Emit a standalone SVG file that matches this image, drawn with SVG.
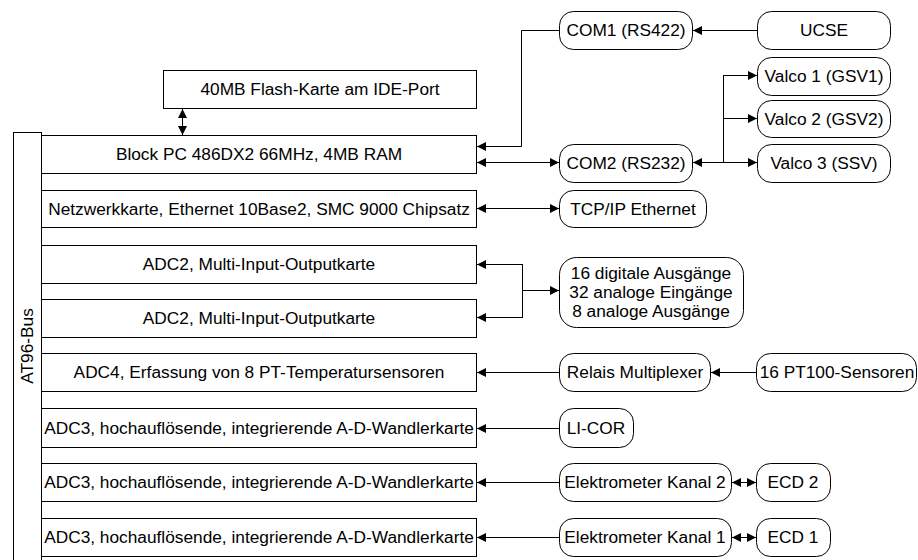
<svg xmlns="http://www.w3.org/2000/svg" width="918" height="560" viewBox="0 0 918 560">
<style>
  .card { fill: #fff; stroke: #000; stroke-width: 1; }
  .rbox { fill: #fff; stroke: #000; stroke-width: 1; }
  .t { font-family: "Liberation Sans", Arial, sans-serif; font-size: 17.3px; fill: #000; text-anchor: middle; }
  .c { fill: none; stroke: #000; stroke-width: 1; }
</style>
<defs>
  <marker id="ah" viewBox="0 0 10 10" refX="10" refY="5" markerWidth="9" markerHeight="9" orient="auto-start-reverse" markerUnits="userSpaceOnUse">
    <path d="M0,0 L10,5 L0,10 Z" fill="#000"/>
  </marker>
</defs>
<rect width="918" height="560" fill="#fff"/>

<g id="bus">
  <rect class="card" x="13.5" y="132.5" width="28" height="440"/>
  <text class="t" transform="translate(33,346) rotate(-90)">AT96-Bus</text>
</g>
<g id="flash">
  <rect class="card" x="163.5" y="70.5" width="313" height="38"/>
  <text class="t" x="320" y="95">40MB Flash-Karte am IDE-Port</text>
</g>
<g id="blockpc">
  <rect class="card" x="41.5" y="135.5" width="435" height="38"/>
  <text class="t" x="259" y="160">Block PC 486DX2 66MHz, 4MB RAM</text>
</g>
<g id="netz">
  <rect class="card" x="41.5" y="190.5" width="435" height="37"/>
  <text class="t" x="259" y="215">Netzwerkkarte, Ethernet 10Base2, SMC 9000 Chipsatz</text>
</g>
<g id="adc2a">
  <rect class="card" x="41.5" y="245.5" width="435" height="38"/>
  <text class="t" x="259" y="270">ADC2, Multi-Input-Outputkarte</text>
</g>
<g id="adc2b">
  <rect class="card" x="41.5" y="299.5" width="435" height="38"/>
  <text class="t" x="259" y="324">ADC2, Multi-Input-Outputkarte</text>
</g>
<g id="adc4">
  <rect class="card" x="41.5" y="353.5" width="435" height="38"/>
  <text class="t" x="259" y="378">ADC4, Erfassung von 8 PT-Temperatursensoren</text>
</g>
<g id="adc3a">
  <rect class="card" x="41.5" y="408.5" width="435" height="39"/>
  <text class="t" x="259" y="434">ADC3, hochauflösende, integrierende A-D-Wandlerkarte</text>
</g>
<g id="adc3b">
  <rect class="card" x="41.5" y="463.5" width="435" height="38"/>
  <text class="t" x="259" y="488">ADC3, hochauflösende, integrierende A-D-Wandlerkarte</text>
</g>
<g id="adc3c">
  <rect class="card" x="41.5" y="518.5" width="435" height="38"/>
  <text class="t" x="259" y="543">ADC3, hochauflösende, integrierende A-D-Wandlerkarte</text>
</g>

<g id="com1">
  <rect class="rbox" x="559.5" y="11.5" width="133" height="38" rx="14"/>
  <text class="t" x="626" y="36">COM1 (RS422)</text>
</g>
<g id="ucse">
  <rect class="rbox" x="757.5" y="11.5" width="133" height="38" rx="14"/>
  <text class="t" x="824" y="36">UCSE</text>
</g>
<g id="valco1">
  <rect class="rbox" x="757.5" y="57.5" width="133" height="38" rx="14"/>
  <text class="t" x="824" y="82">Valco 1 (GSV1)</text>
</g>
<g id="valco2">
  <rect class="rbox" x="757.5" y="100.5" width="133" height="37" rx="14"/>
  <text class="t" x="824" y="125">Valco 2 (GSV2)</text>
</g>
<g id="valco3">
  <rect class="rbox" x="757.5" y="144.5" width="133" height="38" rx="14"/>
  <text class="t" x="824" y="169">Valco 3 (SSV)</text>
</g>
<g id="com2">
  <rect class="rbox" x="559.5" y="144.5" width="133" height="38" rx="14"/>
  <text class="t" x="626" y="169">COM2 (RS232)</text>
</g>
<g id="tcp">
  <rect class="rbox" x="559.5" y="190.5" width="147" height="37" rx="14"/>
  <text class="t" x="633" y="215">TCP/IP Ethernet</text>
</g>
<g id="io">
  <rect class="rbox" x="559.5" y="257.5" width="184" height="70" rx="17"/>
  <text class="t" x="651" y="279">16 digitale Ausgänge</text>
  <text class="t" x="651" y="298">32 analoge Eingänge</text>
  <text class="t" x="651" y="317">8 analoge Ausgänge</text>
</g>
<g id="relais">
  <rect class="rbox" x="559.5" y="353.5" width="151" height="38" rx="14"/>
  <text class="t" x="635" y="378">Relais Multiplexer</text>
</g>
<g id="pt100">
  <rect class="rbox" x="756.5" y="353.5" width="160" height="38" rx="14"/>
  <text class="t" x="837" y="378">16 PT100-Sensoren</text>
</g>
<g id="licor">
  <rect class="rbox" x="559.5" y="408.5" width="74" height="39" rx="14"/>
  <text class="t" x="596" y="434">LI-COR</text>
</g>
<g id="elek2">
  <rect class="rbox" x="559.5" y="463.5" width="172" height="38" rx="14"/>
  <text class="t" x="645" y="488">Elektrometer Kanal 2</text>
</g>
<g id="ecd2">
  <rect class="rbox" x="756.5" y="463.5" width="74" height="38" rx="14"/>
  <text class="t" x="793" y="488">ECD 2</text>
</g>
<g id="elek1">
  <rect class="rbox" x="559.5" y="518.5" width="172" height="38" rx="14"/>
  <text class="t" x="645" y="543">Elektrometer Kanal 1</text>
</g>
<g id="ecd1">
  <rect class="rbox" x="756.5" y="518.5" width="74" height="38" rx="14"/>
  <text class="t" x="793" y="543">ECD 1</text>
</g>

<g id="connectors">
  <line class="c" x1="182.5" y1="109" x2="182.5" y2="135" marker-start="url(#ah)" marker-end="url(#ah)"/>
  <polyline class="c" points="559,30.5 521.5,30.5 521.5,146.5 477,146.5" marker-end="url(#ah)"/>
  <line class="c" x1="757" y1="30.5" x2="693" y2="30.5" marker-end="url(#ah)"/>
  <line class="c" x1="477" y1="162.5" x2="559" y2="162.5" marker-start="url(#ah)" marker-end="url(#ah)"/>
  <line class="c" x1="723.5" y1="162.5" x2="693" y2="162.5" marker-end="url(#ah)"/>
  <line class="c" x1="723.5" y1="75.5" x2="723.5" y2="162.5"/>
  <line class="c" x1="723" y1="75.5" x2="757" y2="75.5" marker-end="url(#ah)"/>
  <line class="c" x1="723" y1="118.5" x2="757" y2="118.5" marker-end="url(#ah)"/>
  <line class="c" x1="723" y1="162.5" x2="757" y2="162.5" marker-end="url(#ah)"/>
  <line class="c" x1="477" y1="208.5" x2="559" y2="208.5" marker-start="url(#ah)" marker-end="url(#ah)"/>
  <polyline class="c" points="522.5,264.5 477,264.5" marker-end="url(#ah)"/>
  <polyline class="c" points="522.5,317.5 477,317.5" marker-end="url(#ah)"/>
  <line class="c" x1="522.5" y1="264" x2="522.5" y2="318"/>
  <line class="c" x1="522" y1="290.5" x2="559" y2="290.5" marker-end="url(#ah)"/>
  <line class="c" x1="559" y1="372.5" x2="477" y2="372.5" marker-end="url(#ah)"/>
  <line class="c" x1="756" y1="372.5" x2="711" y2="372.5" marker-end="url(#ah)"/>
  <line class="c" x1="559" y1="428.5" x2="477" y2="428.5" marker-end="url(#ah)"/>
  <line class="c" x1="559" y1="482.5" x2="477" y2="482.5" marker-end="url(#ah)"/>
  <line class="c" x1="732" y1="482.5" x2="756" y2="482.5" marker-start="url(#ah)" marker-end="url(#ah)"/>
  <line class="c" x1="559" y1="537.5" x2="477" y2="537.5" marker-end="url(#ah)"/>
  <line class="c" x1="732" y1="537.5" x2="756" y2="537.5" marker-start="url(#ah)" marker-end="url(#ah)"/>
</g>
</svg>
